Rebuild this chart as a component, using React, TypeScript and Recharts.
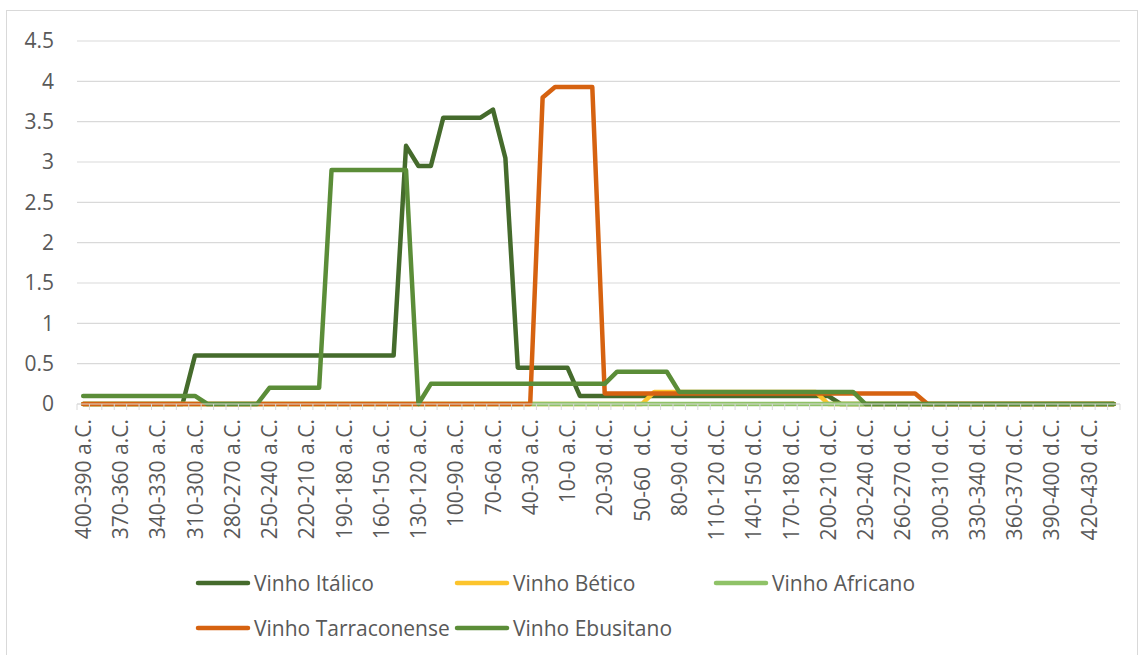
import { CartesianGrid, Legend, Line, LineChart, XAxis, YAxis } from 'recharts'

const periods = [
  '400-390 a.C.', '390-380 a.C.', '380-370 a.C.', '370-360 a.C.', '360-350 a.C.', '350-340 a.C.',
  '340-330 a.C.', '330-320 a.C.', '320-310 a.C.', '310-300 a.C.', '300-290 a.C.', '290-280 a.C.',
  '280-270 a.C.', '270-260 a.C.', '260-250 a.C.', '250-240 a.C.', '240-230 a.C.', '230-220 a.C.',
  '220-210 a.C.', '210-200 a.C.', '200-190 a.C.', '190-180 a.C.', '180-170 a.C.', '170-160 a.C.',
  '160-150 a.C.', '150-140 a.C.', '140-130 a.C.', '130-120 a.C.', '120-110 a.C.', '110-100 a.C.',
  '100-90 a.C.', '90-80 a.C.', '80-70 a.C.', '70-60 a.C.', '60-50 a.C.', '50-40 a.C.',
  '40-30 a.C.', '30-20 a.C.', '20-10 a.C.', '10-0 a.C.', '0-10 d.C.', '10-20 d.C.',
  '20-30 d.C.', '30-40 d.C.', '40-50 d.C.', '50-60  d.C.', '60-70 d.C.', '70-80 d.C.',
  '80-90 d.C.', '90-100 d.C.', '100-110 d.C.', '110-120 d.C.', '120-130 d.C.', '130-140 d.C.',
  '140-150 d.C.', '150-160 d.C.', '160-170 d.C.', '170-180 d.C.', '180-190 d.C.', '190-200 d.C.',
  '200-210 d.C.', '210-220 d.C.', '220-230 d.C.', '230-240 d.C.', '240-250 d.C.', '250-260 d.C.',
  '260-270 d.C.', '270-280 d.C.', '280-290 d.C.', '300-310 d.C.', '310-320 d.C.', '320-330 d.C.',
  '330-340 d.C.', '340-350 d.C.', '350-360 d.C.', '360-370 d.C.', '370-380 d.C.', '380-390 d.C.',
  '390-400 d.C.', '400-410 d.C.', '410-420 d.C.', '420-430 d.C.', '430-440 d.C.', '440-450 d.C.',
]

const italico = [
  0, 0, 0, 0, 0, 0, 0, 0, 0, 0.6, 0.6, 0.6,
  0.6, 0.6, 0.6, 0.6, 0.6, 0.6, 0.6, 0.6, 0.6, 0.6, 0.6, 0.6,
  0.6, 0.6, 3.2, 2.95, 2.95, 3.55, 3.55, 3.55, 3.55, 3.65, 3.05, 0.45,
  0.45, 0.45, 0.45, 0.45, 0.1, 0.1, 0.1, 0.1, 0.1, 0.1, 0.1, 0.1,
  0.1, 0.1, 0.1, 0.1, 0.1, 0.1, 0.1, 0.1, 0.1, 0.1, 0.1, 0.1,
  0.1, 0, 0, 0, 0, 0, 0, 0, 0, 0, 0, 0,
  0, 0, 0, 0, 0, 0, 0, 0, 0, 0, 0, 0,
]

const betico = [
  0, 0, 0, 0, 0, 0, 0, 0, 0, 0, 0, 0,
  0, 0, 0, 0, 0, 0, 0, 0, 0, 0, 0, 0,
  0, 0, 0, 0, 0, 0, 0, 0, 0, 0, 0, 0,
  0, 0, 0, 0, 0, 0, 0, 0, 0, 0, 0.15, 0.15,
  0.15, 0.15, 0.15, 0.15, 0.15, 0.15, 0.15, 0.15, 0.15, 0.15, 0.15, 0.15,
  0, 0, 0, 0, 0, 0, 0, 0, 0, 0, 0, 0,
  0, 0, 0, 0, 0, 0, 0, 0, 0, 0, 0, 0,
]

const africano = [
  0, 0, 0, 0, 0, 0, 0, 0, 0, 0, 0, 0,
  0, 0, 0, 0, 0, 0, 0, 0, 0, 0, 0, 0,
  0, 0, 0, 0, 0, 0, 0, 0, 0, 0, 0, 0,
  0, 0, 0, 0, 0, 0, 0, 0, 0, 0, 0, 0,
  0, 0, 0, 0, 0, 0, 0, 0, 0, 0, 0, 0,
  0, 0, 0, 0, 0, 0, 0, 0, 0, 0, 0, 0,
  0, 0, 0, 0, 0, 0, 0, 0, 0, 0, 0, 0,
]

const tarraconense = [
  0, 0, 0, 0, 0, 0, 0, 0, 0, 0, 0, 0,
  0, 0, 0, 0, 0, 0, 0, 0, 0, 0, 0, 0,
  0, 0, 0, 0, 0, 0, 0, 0, 0, 0, 0, 0,
  0, 3.8, 3.93, 3.93, 3.93, 3.93, 0.13, 0.13, 0.13, 0.13, 0.13, 0.13,
  0.13, 0.13, 0.13, 0.13, 0.13, 0.13, 0.13, 0.13, 0.13, 0.13, 0.13, 0.13,
  0.13, 0.13, 0.13, 0.13, 0.13, 0.13, 0.13, 0.13, 0, 0, 0, 0,
  0, 0, 0, 0, 0, 0, 0, 0, 0, 0, 0, 0,
]

const ebusitano = [
  0.1, 0.1, 0.1, 0.1, 0.1, 0.1, 0.1, 0.1, 0.1, 0.1, 0, 0,
  0, 0, 0, 0.2, 0.2, 0.2, 0.2, 0.2, 2.9, 2.9, 2.9, 2.9,
  2.9, 2.9, 2.9, 0, 0.25, 0.25, 0.25, 0.25, 0.25, 0.25, 0.25, 0.25,
  0.25, 0.25, 0.25, 0.25, 0.25, 0.25, 0.25, 0.4, 0.4, 0.4, 0.4, 0.4,
  0.15, 0.15, 0.15, 0.15, 0.15, 0.15, 0.15, 0.15, 0.15, 0.15, 0.15, 0.15,
  0.15, 0.15, 0.15, 0, 0, 0, 0, 0, 0, 0, 0, 0,
  0, 0, 0, 0, 0, 0, 0, 0, 0, 0, 0, 0,
]

const yTicks = [0, 0.5, 1, 1.5, 2, 2.5, 3, 3.5, 4, 4.5]

const series = [
  { key: 'italico', name: 'Vinho Itálico', color: '#456b2c' },
  { key: 'betico', name: 'Vinho Bético', color: '#fcc42c' },
  { key: 'africano', name: 'Vinho Africano', color: '#8fc267' },
  { key: 'tarraconense', name: 'Vinho Tarraconense', color: '#d66210' },
  { key: 'ebusitano', name: 'Vinho Ebusitano', color: '#5b8d38' },
]

const data = periods.map((period, i) => ({
  period,
  italico: italico[i],
  betico: betico[i],
  africano: africano[i],
  tarraconense: tarraconense[i],
  ebusitano: ebusitano[i],
}))

const WIDTH = 1138
const HEIGHT = 655
const PLOT_LEFT = 77
const PLOT_RIGHT = 1120
const HALF_CAT = (PLOT_RIGHT - PLOT_LEFT) / periods.length / 2
const TEXT = '#595959'
const GRID = '#d9d9d9'
const FONT = '"Open Sans", sans-serif'

// tick marks sit on category boundaries, labels on every third category
function renderPeriodTick(props: any) {
  const { x, y, payload, index } = props
  const isLast = index === periods.length - 1
  return (
    <g>
      <line x1={x - HALF_CAT} x2={x - HALF_CAT} y1={y} y2={y + 6} stroke={GRID} />
      {isLast && <line x1={x + HALF_CAT} x2={x + HALF_CAT} y1={y} y2={y + 6} stroke={GRID} />}
      {index % 3 === 0 && (
        <text
          transform={`translate(${x},${y}) rotate(-90)`}
          x={-15}
          dy="0.36em"
          textAnchor="end"
          fill={TEXT}
          fontSize={21}
          style={{ whiteSpace: 'pre' }}
        >
          {payload.value}
        </text>
      )}
    </g>
  )
}

// legend keeps the series order (Recharts would sort it by name)
function renderLegend() {
  return (
    <div style={{ position: 'relative', width: WIDTH, height: 120 }}>
      {series.map((s, i) => (
        <div
          key={s.key}
          style={{
            position: 'absolute',
            left: 195 + (i % 3) * 259,
            top: 35 + Math.floor(i / 3) * 45,
            height: 26,
            display: 'flex',
            alignItems: 'center',
            whiteSpace: 'nowrap',
          }}
        >
          <svg width={56} height={8} style={{ display: 'block' }}>
            <line x1={3} x2={53} y1={4} y2={4} stroke={s.color} strokeWidth={4.5} strokeLinecap="round" />
          </svg>
          <span style={{ marginLeft: 3, fontSize: 21, color: TEXT, lineHeight: '26px' }}>{s.name}</span>
        </div>
      ))}
    </div>
  )
}

export default function App() {
  return (
    <div style={{ position: 'absolute', left: 0, top: 0, width: WIDTH, height: HEIGHT, background: '#fff', fontFamily: FONT, overflow: 'hidden' }}>
      <div
        style={{
          position: 'absolute',
          left: 6,
          top: 10,
          width: 1130,
          height: 700,
          border: `1px solid ${GRID}`,
          pointerEvents: 'none',
        }}
      />
      <LineChart width={WIDTH} height={HEIGHT} data={data} margin={{ top: 41, right: WIDTH - PLOT_RIGHT, left: 17, bottom: 0 }}>
        <CartesianGrid vertical={false} stroke={GRID} strokeWidth={1.2} />
        <XAxis
          dataKey="period"
          interval={0}
          height={131}
          tickLine={false}
          tickSize={0}
          tickMargin={0}
          axisLine={{ stroke: GRID, strokeWidth: 1.2 }}
          padding={{ left: HALF_CAT, right: HALF_CAT }}
          tick={renderPeriodTick}
        />
        <YAxis
          type="number"
          domain={[0, 4.5]}
          ticks={yTicks}
          width={PLOT_LEFT - 17}
          axisLine={false}
          tickLine={false}
          tickSize={0}
          tickMargin={23}
          tick={{ fill: TEXT, fontSize: 21 }}
        />
        <Legend
          verticalAlign="bottom"
          content={renderLegend}
          wrapperStyle={{ left: 0, bottom: 0, width: WIDTH, height: 120 }}
        />
        {series.map((s) => (
          <Line
            key={s.key}
            type="linear"
            dataKey={s.key}
            name={s.name}
            stroke={s.color}
            strokeWidth={4.5}
            strokeLinejoin="round"
            strokeLinecap="round"
            dot={false}
            activeDot={false}
            isAnimationActive={false}
          />
        ))}
      </LineChart>
    </div>
  )
}
